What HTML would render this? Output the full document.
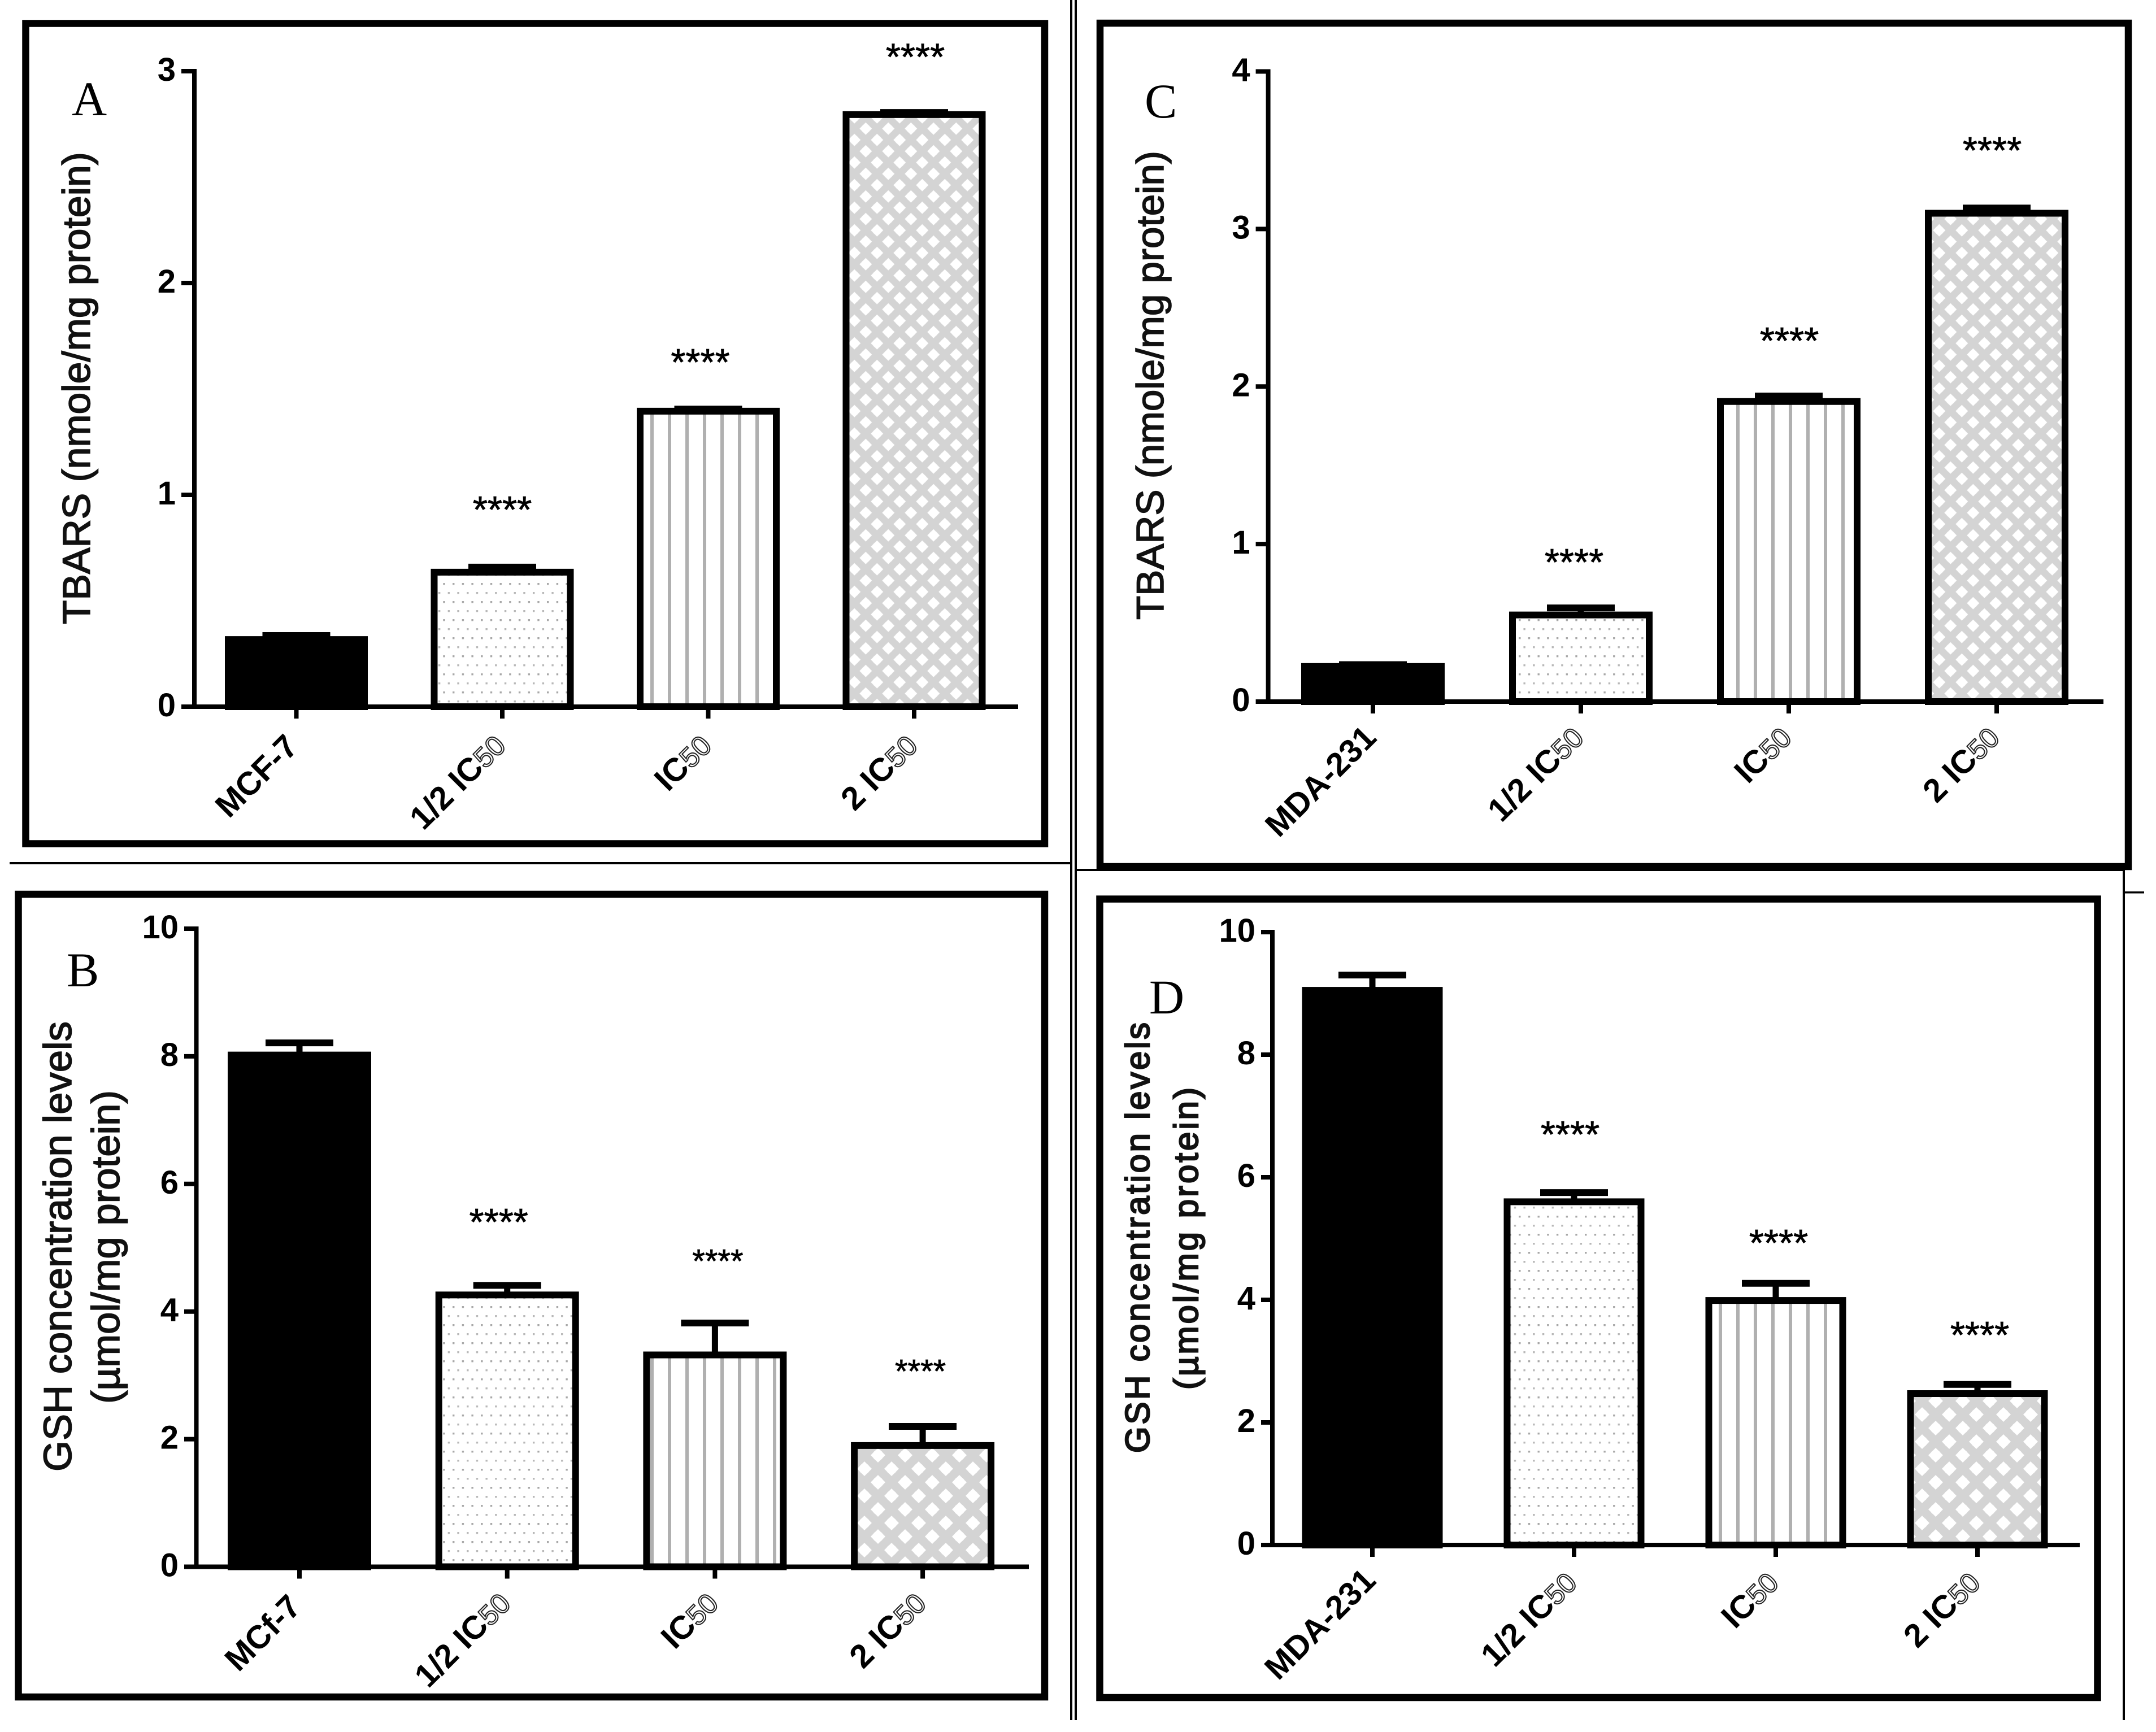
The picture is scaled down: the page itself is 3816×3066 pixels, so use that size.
<!DOCTYPE html>
<html lang="en">
<head>
<meta charset="utf-8">
<title>TBARS and GSH levels in MCF-7 and MDA-231 cells</title>
<style>
  html, body { margin: 0; padding: 0; background: #ffffff; }
  svg { display: block; }
  text { font-family: "Liberation Sans", Arial, sans-serif; }
  .letter { font-family: "Liberation Serif", "Times New Roman", serif; font-size: 86px; fill: #000; }
  .ytitle { font-size: 70px; fill: #111; stroke: #111; stroke-width: 1.6px; }
</style>
</head>
<body>
<svg id="figure" xmlns="http://www.w3.org/2000/svg" width="3816" height="3066" viewBox="0 0 3816 3066">
  <defs>
    <pattern id="dots-a" patternUnits="userSpaceOnUse" width="16.7" height="32" patternTransform="translate(801 1032)">
      <rect width="16.7" height="32" fill="#fff"/>
      <rect x="0" y="0" width="3.4" height="3.4" fill="#a8a8a8"/>
      <rect x="8.35" y="16" width="3.4" height="3.4" fill="#b8b8b8"/>
    </pattern>
    <pattern id="vlines-a" patternUnits="userSpaceOnUse" width="31" height="40" patternTransform="translate(1151 0)">
      <rect width="31" height="40" fill="#fff"/>
      <rect x="0" y="0" width="6" height="40" fill="#b0b0b0"/>
    </pattern>
    <pattern id="cross-a" patternUnits="userSpaceOnUse" width="40" height="40" patternTransform="translate(1532.3 227.7)">
      <rect width="40" height="40" fill="#d4d4d4"/>
      <polygon points="20,9 31,20 20,31 9,20" fill="#fff"/>
      <circle cx="20" cy="20" r="8" fill="#fff"/>
      <polygon points="0,-11 11,0 0,11 -11,0" fill="#fff"/>
      <polygon points="40,-11 51,0 40,11 29,0" fill="#fff"/>
      <polygon points="0,29 11,40 0,51 -11,40" fill="#fff"/>
      <polygon points="40,29 51,40 40,51 29,40" fill="#fff"/>
      <circle cx="0" cy="0" r="8" fill="#fff"/>
      <circle cx="40" cy="0" r="8" fill="#fff"/>
      <circle cx="0" cy="40" r="8" fill="#fff"/>
      <circle cx="40" cy="40" r="8" fill="#fff"/>
    </pattern>
    <pattern id="cross-b" patternUnits="userSpaceOnUse" width="48" height="48" patternTransform="translate(1530 2600)">
      <rect width="48" height="48" fill="#d4d4d4"/>
      <polygon points="24,11 37,24 24,37 11,24" fill="#fff"/>
      <circle cx="24" cy="24" r="9.5" fill="#fff"/>
      <polygon points="0,-13 13,0 0,13 -13,0" fill="#fff"/>
      <polygon points="48,-13 61,0 48,13 35,0" fill="#fff"/>
      <polygon points="0,35 13,48 0,61 -13,48" fill="#fff"/>
      <polygon points="48,35 61,48 48,61 35,48" fill="#fff"/>
      <circle cx="0" cy="0" r="9.5" fill="#fff"/>
      <circle cx="48" cy="0" r="9.5" fill="#fff"/>
      <circle cx="0" cy="48" r="9.5" fill="#fff"/>
      <circle cx="48" cy="48" r="9.5" fill="#fff"/>
    </pattern>
  </defs>

  <rect x="0" y="0" width="3816" height="3066" fill="#ffffff"/>

  <!-- hand-drawn table rules between the panels -->
  <rect x="17" y="1526" width="1877" height="4" fill="#000"/>
  <rect x="1894" y="0" width="4" height="3045" fill="#000"/>
  <rect x="1902" y="0" width="4" height="3045" fill="#000"/>
  <rect x="1906" y="1538" width="1851" height="4" fill="#000"/>
  <rect x="3757" y="1538" width="4" height="1507" fill="#000"/>
  <rect x="3761" y="1578" width="34" height="3.5" fill="#000"/>

  <!-- panel frames -->
  <rect x="45.5" y="41.5" width="1803.5" height="1452" fill="none" stroke="#000" stroke-width="12.5"/>
  <rect x="32.5" y="1583" width="1816.5" height="1421" fill="none" stroke="#000" stroke-width="12.5"/>
  <rect x="1947" y="41" width="1820" height="1493" fill="none" stroke="#000" stroke-width="12.5"/>
  <rect x="1946.5" y="1591.5" width="1766" height="1413.5" fill="none" stroke="#000" stroke-width="12.5"/>

  <!-- panel letters -->
  <text class="letter" x="127" y="204">A</text>
  <text class="letter" x="118" y="1746">B</text>
  <text class="letter" x="2026" y="208">C</text>
  <text class="letter" x="2034" y="1794">D</text>

  <!-- y axis titles -->
  <text class="ytitle" transform="translate(159 1105) rotate(-90)" style="font-size:69px" textLength="836" lengthAdjust="spacingAndGlyphs">TBARS (nmole/mg protein)</text>
  <text class="ytitle" transform="translate(2059 1097) rotate(-90)" style="font-size:68px" textLength="830" lengthAdjust="spacingAndGlyphs">TBARS (nmole/mg protein)</text>
  <text class="ytitle" transform="translate(126 2605) rotate(-90)" textLength="797" lengthAdjust="spacingAndGlyphs">GSH concentration levels</text>
  <text class="ytitle" transform="translate(211 2485) rotate(-90)" textLength="555" lengthAdjust="spacingAndGlyphs">(µmol/mg protein)</text>
  <text class="ytitle" transform="translate(2034 2572) rotate(-90)" style="font-size:60px;stroke-width:2.4px" textLength="762" lengthAdjust="spacing">GSH concentration levels</text>
  <text class="ytitle" transform="translate(2120 2460) rotate(-90)" style="font-size:60px;stroke-width:2.4px" textLength="535" lengthAdjust="spacing">(µmol/mg protein)</text>

  <g id="charts"></g>
</svg>

<script>
// Panel A: TBARS, MCF-7
const categoriesA = ['MCF-7', '1/2 IC50', 'IC50', '2 IC50'];
const meansA = [0.317, 0.635, 1.395, 2.795];
const errorsA = [0.019, 0.024, 0.010, 0.010];
const significanceA = ['', '****', '****', '****'];
const significanceLevelsA = [0, 0.952, 1.648, 3.089];
const yTicksA = [0, 1, 2, 3];

// Panel B: GSH, MCF-7
const categoriesB = ['MCf-7', '1/2 IC50', 'IC50', '2 IC50'];
const meansB = [8.02, 4.26, 3.32, 1.90];
const errorsB = [0.19, 0.15, 0.50, 0.30];
const significanceB = ['', '****', '****', '****'];
const significanceLevelsB = [0, 5.476, 4.838, 3.112];
const yTicksB = [0, 2, 4, 6, 8, 10];

// Panel C: TBARS, MDA-231
const categoriesC = ['MDA-231', '1/2 IC50', 'IC50', '2 IC50'];
const meansC = [0.223, 0.55, 1.905, 3.10];
const errorsC = [0.012, 0.045, 0.035, 0.033];
const significanceC = ['', '****', '****', '****'];
const significanceLevelsC = [0, 0.914, 2.32, 3.528];
const yTicksC = [0, 1, 2, 3, 4];

// Panel D: GSH, MDA-231
const categoriesD = ['MDA-231', '1/2 IC50', 'IC50', '2 IC50'];
const meansD = [9.05, 5.60, 3.99, 2.47];
const errorsD = [0.25, 0.15, 0.28, 0.15];
const significanceD = ['', '****', '****', '****'];
const significanceLevelsD = [0, 6.774, 5.005, 3.502];
const yTicksD = [0, 2, 4, 6, 8, 10];

const SVG_NS = 'http://www.w3.org/2000/svg';
const chartsRoot = document.getElementById('charts');

function mk(parent, tag, attrs) {
  const el = document.createElementNS(SVG_NS, tag);
  for (const k in attrs) el.setAttribute(k, attrs[k]);
  parent.appendChild(el);
  return el;
}

function drawPanel(id, layout, categories, means, errors, significance, significanceLevels, yTicks) {
  const yMax = yTicks[yTicks.length - 1];
  const yScale = v => layout.y0 - v * (layout.y0 - layout.yTop) / yMax;
  const xScale = i => layout.x0 + i * layout.step;
  const strokeW = 12;
  const barW = layout.barOuter - strokeW;
  const fills = ['#000', 'url(#dots-a)', 'url(#vlines-a)', layout.cross];

  const g = mk(chartsRoot, 'g', {});
  
  

  categories.forEach((cat, i) => {
    const cx = xScale(i);
    const top = yScale(means[i]);
    const bar = mk(g, 'rect', {
      x: cx - barW / 2, y: top, width: barW, height: layout.y0 - top,
      fill: fills[i], stroke: '#000', 'stroke-width': strokeW
    });
    
    

    const capY = yScale(means[i] + errors[i]);
    const stem = mk(g, 'line', {
      x1: cx, x2: cx, y1: top, y2: capY, stroke: '#000', 'stroke-width': 11
    });
    
    

    const cap = mk(g, 'line', {
      x1: cx - 60, x2: cx + 60, y1: capY, y2: capY, stroke: '#000', 'stroke-width': 12
    });
    
    

    if (significance[i]) {
      const size = (layout.smallStars && i > 1) ? 58 : 67;
      const star = mk(g, 'text', {
        x: cx + layout.starDx[i], y: yScale(significanceLevels[i]) + size * 0.58 - 8,
        'text-anchor': 'middle', 'font-size': size, fill: '#000', stroke: '#000', 'stroke-width': 0.8
      });
      
      
      star.textContent = significance[i];
    }

    const tick = mk(g, 'line', {
      x1: cx, x2: cx, y1: layout.y0, y2: layout.y0 + 21, stroke: '#000', 'stroke-width': 8
    });
    
    

    const lx = cx + layout.labelDx[i];
    const ly = layout.y0 + layout.labelDy[i];
    const label = mk(g, 'text', {
      transform: 'translate(' + lx + ' ' + ly + ') rotate(-45)',
      'text-anchor': 'end', 'font-size': layout.labelSize, 'font-weight': 'bold', fill: '#000'
    });
    
    
    if (cat.endsWith('IC50')) {
      const main = mk(label, 'tspan', {});
      main.textContent = cat.slice(0, -2);
      const sub = mk(label, 'tspan', {
        'font-weight': 'normal', 'font-size': layout.labelSize * 0.86, fill: '#fff',
        stroke: '#222', 'stroke-width': 2
      });
      sub.textContent = '50';
    } else {
      label.textContent = cat;
    }
  });

  const yAxis = mk(g, 'line', {
    x1: layout.axisX, x2: layout.axisX, y1: layout.yTop - 4, y2: layout.y0 + 4,
    stroke: '#000', 'stroke-width': 8
  });
  
  

  const xAxis = mk(g, 'line', {
    x1: layout.axisX, x2: layout.axisRight, y1: layout.y0, y2: layout.y0,
    stroke: '#000', 'stroke-width': 8
  });
  
  

  yTicks.forEach(t => {
    const y = yScale(t);
    const tk = mk(g, 'line', {
      x1: layout.tickLeft, x2: layout.axisX, y1: y, y2: y, stroke: '#000', 'stroke-width': 8
    });
    
    

    const lab = mk(g, 'text', {
      x: layout.tickLeft - 10, y: y + 17, 'text-anchor': 'end',
      'font-size': 58, 'font-weight': 'bold', fill: '#000'
    });
    
    
    lab.textContent = String(t);
  });
}

drawPanel('a', {
  y0: 1251, yTop: 126, x0: 524.5, step: 364.5, barOuter: 253,
  axisX: 344, axisRight: 1802, tickLeft: 321, cross: 'url(#cross-a)',
  labelSize: 58, labelDx: [6, 9, 9, 9], labelDy: [74, 72, 72, 72],
  starDx: [0, 0, -14, 2], smallStars: false
}, categoriesA, meansA, errorsA, significanceA, significanceLevelsA, yTicksA);

drawPanel('b', {
  y0: 2773.5, yTop: 1644, x0: 530, step: 367.7, barOuter: 254,
  axisX: 347.5, axisRight: 1821, tickLeft: 326, cross: 'url(#cross-b)',
  labelSize: 58, labelDx: [6, 9, 9, 9], labelDy: [74, 68, 68, 68],
  starDx: [0, -15, 5, -4], smallStars: true
}, categoriesB, meansB, errorsB, significanceB, significanceLevelsB, yTicksB);

drawPanel('c', {
  y0: 1242, yTop: 126.5, x0: 2430, step: 368, barOuter: 254,
  axisX: 2244.6, axisRight: 3723, tickLeft: 2222.6, cross: 'url(#cross-a)',
  labelSize: 58, labelDx: [9, 8, 8, 8], labelDy: [67, 67, 67, 67],
  starDx: [0, -12, 1, -8], smallStars: false
}, categoriesC, meansC, errorsC, significanceC, significanceLevelsC, yTicksC);

drawPanel('d', {
  y0: 2735, yTop: 1650, x0: 2429, step: 357, barOuter: 249,
  axisX: 2252, axisRight: 3681, tickLeft: 2232, cross: 'url(#cross-b)',
  labelSize: 58, labelDx: [9, 8, 8, 8], labelDy: [66, 70, 70, 70],
  starDx: [0, -7, 5, 4], smallStars: false
}, categoriesD, meansD, errorsD, significanceD, significanceLevelsD, yTicksD);
</script>
</body>
</html>
